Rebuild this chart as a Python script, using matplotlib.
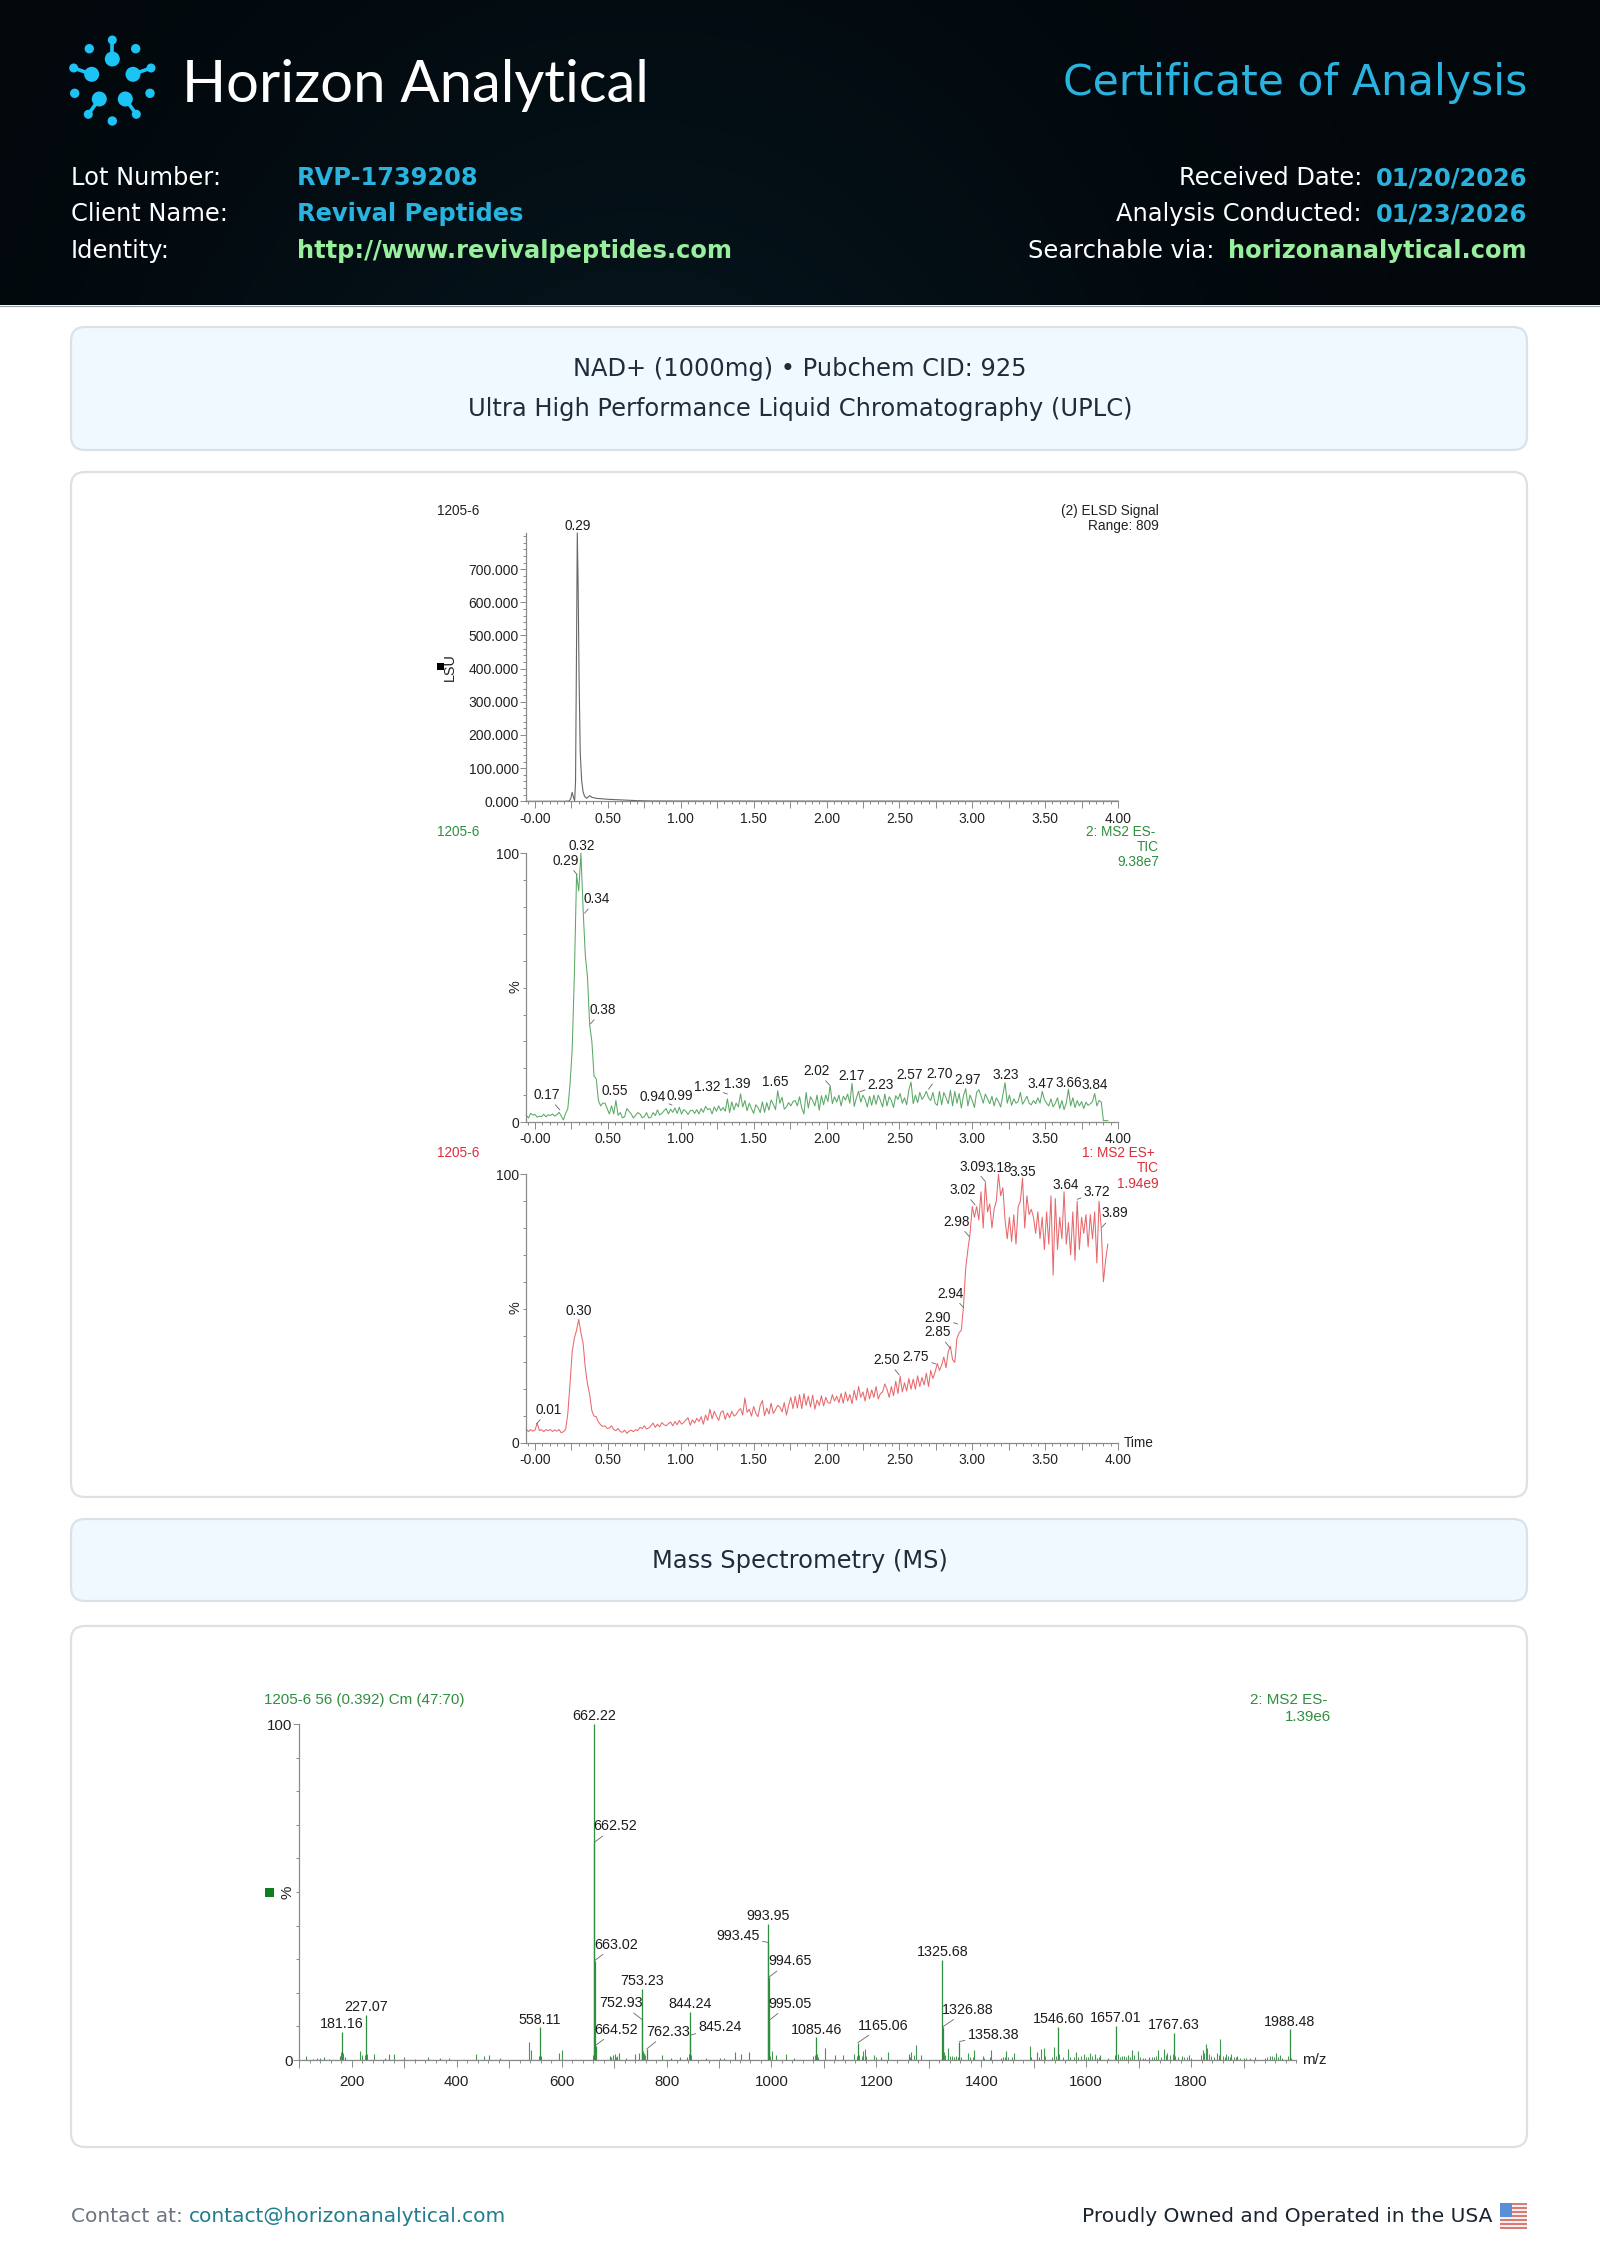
#!/usr/bin/env python3
"""Horizon Analytical certificate: UPLC traces and MS spectrum"""
import numpy as np
import matplotlib
matplotlib.use('Agg')
import matplotlib.pyplot as plt
from matplotlib.patches import FancyBboxPatch, Rectangle, Circle

W, H = 1600, 2260

# ---- data ----
ELSD_TIME = [-0.06, 0.00, 0.10, 0.20, 0.235, 0.245, 0.255, 0.265, 0.272, 0.278, 0.284, 0.29, 0.296, 0.302, 0.31, 0.32,
             0.33, 0.34, 0.355, 0.375, 0.39, 0.42, 0.50, 0.60, 0.70, 0.80, 1.00, 2.00, 3.00, 4.00]
ELSD_SIGNAL = [0, 0, 0, 0, 1, 8, 27, 10, 2, 60, 420, 809, 640, 380, 150, 62,
               28, 15, 9, 17, 12, 9, 6, 4, 2, 1, 0.8, 0.6, 0.5, 0.5]

SCAN_TIME = [
    -0.060, -0.045, -0.030, -0.015, 0.000, 0.015, 0.030, 0.045, 0.060, 0.075,
    0.090, 0.105, 0.120, 0.135, 0.150, 0.165, 0.180, 0.195, 0.210, 0.225,
    0.240, 0.255, 0.270, 0.285, 0.300, 0.315, 0.330, 0.345, 0.360, 0.375,
    0.390, 0.405, 0.420, 0.435, 0.450, 0.465, 0.480, 0.495, 0.510, 0.525,
    0.540, 0.555, 0.570, 0.585, 0.600, 0.615, 0.630, 0.645, 0.660, 0.675,
    0.690, 0.705, 0.720, 0.735, 0.750, 0.765, 0.780, 0.795, 0.810, 0.825,
    0.840, 0.855, 0.870, 0.885, 0.900, 0.915, 0.930, 0.945, 0.960, 0.975,
    0.990, 1.005, 1.020, 1.035, 1.050, 1.065, 1.080, 1.095, 1.110, 1.125,
    1.140, 1.155, 1.170, 1.185, 1.200, 1.215, 1.230, 1.245, 1.260, 1.275,
    1.290, 1.305, 1.320, 1.335, 1.350, 1.365, 1.380, 1.395, 1.410, 1.425,
    1.440, 1.455, 1.470, 1.485, 1.500, 1.515, 1.530, 1.545, 1.560, 1.575,
    1.590, 1.605, 1.620, 1.635, 1.650, 1.665, 1.680, 1.695, 1.710, 1.725,
    1.740, 1.755, 1.770, 1.785, 1.800, 1.815, 1.830, 1.845, 1.860, 1.875,
    1.890, 1.905, 1.920, 1.935, 1.950, 1.965, 1.980, 1.995, 2.010, 2.025,
    2.040, 2.055, 2.070, 2.085, 2.100, 2.115, 2.130, 2.145, 2.160, 2.175,
    2.190, 2.205, 2.220, 2.235, 2.250, 2.265, 2.280, 2.295, 2.310, 2.325,
    2.340, 2.355, 2.370, 2.385, 2.400, 2.415, 2.430, 2.445, 2.460, 2.475,
    2.490, 2.505, 2.520, 2.535, 2.550, 2.565, 2.580, 2.595, 2.610, 2.625,
    2.640, 2.655, 2.670, 2.685, 2.700, 2.715, 2.730, 2.745, 2.760, 2.775,
    2.790, 2.805, 2.820, 2.835, 2.850, 2.865, 2.880, 2.895, 2.910, 2.925,
    2.940, 2.955, 2.970, 2.985, 3.000, 3.015, 3.030, 3.045, 3.060, 3.075,
    3.090, 3.105, 3.120, 3.135, 3.150, 3.165, 3.180, 3.195, 3.210, 3.225,
    3.240, 3.255, 3.270, 3.285, 3.300, 3.315, 3.330, 3.345, 3.360, 3.375,
    3.390, 3.405, 3.420, 3.435, 3.450, 3.465, 3.480, 3.495, 3.510, 3.525,
    3.540, 3.555, 3.570, 3.585, 3.600, 3.615, 3.630, 3.645, 3.660, 3.675,
    3.690, 3.705, 3.720, 3.735, 3.750, 3.765, 3.780, 3.795, 3.810, 3.825,
    3.840, 3.855, 3.870, 3.885, 3.900, 3.915, 3.930]

TIC_NEG = [
    2.5, 1.5, 3.2, 2.6, 2.8, 1.8, 2.2, 2.0, 2.9, 1.9,
    2.7, 2.4, 3.0, 2.2, 2.7, 3.6, 2.2, 0.8, 3.2, 5.0,
    14, 27, 55, 92, 86, 100, 79, 62, 54, 36,
    30, 17, 16, 8, 6, 7, 7, 5, 3, 6,
    3, 8, 2.5, 3.5, 1.5, 2, 5, 4, 3, 1.5,
    2.5, 3.5, 3, 1.6, 2, 3.5, 1.5, 1.8, 3.5, 2.4,
    4.5, 2.6, 3.2, 4.2, 5, 3, 4.8, 3.6, 5.2, 3.2,
    5.5, 3, 4.6, 4, 2.8, 4.2, 4.4, 3.2, 4.6, 3,
    5, 3.6, 5.8, 4.6, 5, 3, 5.6, 4, 6, 4.2,
    5.4, 4, 8.6, 3.5, 7.5, 4.5, 7, 5.6, 10.5, 5.6,
    8, 4.2, 7, 5, 3.2, 6.4, 5.4, 3.5, 7.5, 3.6,
    7.2, 4.4, 8.2, 6.6, 4.6, 11.6, 7, 9.2, 4.8, 5.6,
    7.2, 6, 7.6, 8, 6, 9.4, 5.2, 3, 11, 5.2,
    9.4, 8, 6, 10, 4.4, 9.8, 6.4, 10, 7.6, 13.6,
    6.8, 9.4, 7.4, 10, 6, 9.6, 8.2, 10.4, 7, 14.4,
    5.8, 9, 11.4, 7.4, 10, 8.4, 5.6, 9.6, 6.2, 10,
    6.6, 10, 8, 5.6, 10.4, 6, 9.4, 8, 5.4, 9.8,
    8.4, 10.6, 7, 9, 6.4, 12, 14.8, 6.8, 10, 7.2,
    11, 8.4, 9.6, 11.4, 9, 8, 11, 7, 6.2, 11.4,
    6.4, 11, 9, 6.8, 11.8, 6, 11.4, 7, 10.6, 5.2,
    9.8, 12.4, 6, 10, 8, 5.4, 11, 12, 9.8, 7,
    10.4, 8.6, 6.8, 9.6, 6, 9, 7.6, 5.6, 10, 14.6,
    7, 10, 6.2, 8.6, 7, 7.6, 11, 6.6, 8, 9.6,
    7, 6.4, 8, 6.8, 9, 7, 11.4, 8.4, 7, 6,
    8.6, 5.6, 7, 9, 5, 8, 4.6, 7, 12.2, 6,
    9, 5.4, 8, 6, 7.6, 5, 7.4, 6.2, 6.8, 7.6,
    10.6, 6, 8, 7.4, 0.5, 0.5, 0.5]

TIC_POS = [
    5.2, 4.2, 5, 4.4, 4.8, 7.4, 4.6, 5, 4.2, 5,
    4.6, 5, 4.3, 4.9, 4.4, 5, 3.8, 4.2, 5, 11,
    22, 34, 39, 42, 46, 41, 37, 28, 22, 18,
    12, 10, 9.8, 7.8, 6.8, 6.2, 6.4, 5.4, 5.6, 6.4,
    5, 4.6, 5.4, 4.2, 4, 4.8, 3.6, 4.4, 4.8, 4.2,
    5, 4.6, 5.8, 5.4, 6.4, 5.2, 5.6, 6.4, 7.4, 5.8,
    7, 6, 7.6, 6.8, 6.4, 7.2, 7.8, 6.4, 8, 6.8,
    8.4, 7, 7.6, 8.6, 9.4, 6.6, 8.6, 7.4, 9.2, 8,
    9.8, 7, 10.4, 8.4, 12.6, 9, 11.8, 10, 8.4, 11.4,
    12, 8.8, 11.2, 9.4, 11.8, 10, 10.6, 12, 12.8, 10.4,
    16.8, 11.4, 12.6, 10, 13.6, 11, 9.8, 14, 15.8, 10.2,
    13, 10.8, 14.8, 11, 12.4, 14, 13.4, 11.6, 15, 10.4,
    14, 17, 12.8, 17.4, 13, 18, 12.8, 18.4, 14, 17.4,
    13.4, 17.8, 12.6, 16, 14, 17.6, 13.8, 17, 15, 14.8,
    18, 15.6, 17.4, 15, 18.4, 14.8, 19, 15.6, 18, 14.6,
    19.6, 16, 21, 17, 19, 15.6, 20.4, 16.4, 19.8, 17,
    21, 16.4, 18.4, 19, 22, 20, 17, 21, 17.6, 23,
    18.4, 24.8, 19, 22.4, 19.4, 24, 20, 23.8, 20, 25,
    21, 24.4, 21.6, 26, 21, 27, 24, 26.4, 29.6, 27,
    29, 32, 28, 34, 36, 31, 30, 39, 41, 42,
    51, 65, 72, 78, 88, 84, 88, 83, 93.5, 80,
    97, 86, 89, 80, 87, 90, 100, 92, 95, 83,
    76, 84, 75, 85, 74, 88, 90, 98.5, 80, 92,
    85, 87, 84, 78, 86, 76, 84, 72, 86, 74,
    92, 62.5, 91, 72, 84, 76, 93.5, 74, 82, 70,
    86, 68, 90, 72, 84, 78, 85, 73, 85, 76,
    86, 67, 90, 80, 60, 68, 74]

NEG_PEAK_TIME = [0.17, 0.29, 0.32, 0.34, 0.38, 0.55, 0.94, 0.99, 1.32, 1.39, 1.65, 2.02, 2.17, 2.23,
                 2.57, 2.70, 2.97, 3.23, 3.47, 3.66, 3.84]
NEG_PEAK_HEIGHT = [4.5, 92, 100, 77.7, 36.5, 8.8, 6.3, 6.9, 10.4, 11.3, 12.2, 13.8, 14.4, 11.3,
                   15, 12.2, 12.9, 14.8, 11.4, 11.9, 10.7]
POS_PEAK_TIME = [0.01, 0.30, 2.50, 2.75, 2.85, 2.90, 2.94, 2.98, 3.02, 3.09, 3.18, 3.35, 3.64, 3.72, 3.89]
POS_PEAK_HEIGHT = [7.1, 46, 25.3, 29.4, 35.2, 44.3, 50.4, 76.8, 88.6, 97.3, 99.8, 98.4, 93.5, 90.7, 80.3]

MS_LABEL_MZ = [181.16, 227.07, 558.11, 662.22, 662.52, 663.02, 664.52, 752.93, 753.23, 762.33, 844.24, 845.24,
               993.45, 993.95, 994.65, 995.05, 1085.46, 1165.06, 1325.68, 1326.88, 1358.38, 1546.60, 1657.01,
               1767.63, 1988.48]
MS_LABEL_INT = [8.2, 13.4, 9.9, 100, 64.8, 29.6, 4.3, 12.1, 21, 3.3, 14.4, 7.4,
                35, 40.4, 24.6, 11.7, 6.9, 5.2, 29.8, 9.9, 5.5, 9.7, 10.1,
                7.9, 9.1]

MS_MZ = [112, 125, 133, 140, 146, 157, 178, 184, 187, 216, 220, 243, 263, 271, 280, 299, 320, 345, 369, 386,
         437, 452, 461, 482, 538, 541, 594, 601, 660, 693, 698, 701, 710, 723, 740, 748, 757, 791, 808, 825,
         838, 876, 901, 910, 931, 941, 957, 1001, 1008, 1027, 1042, 1080, 1103, 1121, 1137, 1157, 1174, 1178, 1195, 1208,
         1223, 1262, 1266, 1275, 1285, 1337, 1345, 1352, 1375, 1386, 1404, 1418, 1441, 1448, 1462, 1492, 1507, 1514, 1519, 1538,
         1565, 1581, 1595, 1607, 1616, 1627, 1641, 1669, 1680, 1687, 1699, 1719, 1729, 1736, 1749, 1755, 1782, 1796, 1822, 1828,
         1831, 1849, 1856, 1867, 1877, 1888, 1905, 1922, 1950, 1962, 1969]
MS_INT = [1.2, 0.4, 0.6, 0.7, 0.8, 0.3, 1.2, 1.5, 0.8, 2.8, 1.4, 1.7, 0.5, 1.7, 1.9, 0.8, 0.4, 0.8, 0.6, 0.5,
          1.8, 1.2, 1.4, 0.6, 5.3, 3, 2.2, 3, 1.5, 1.2, 1.5, 1.7, 2.2, 0.6, 1.8, 2, 2, 1.4, 0.6, 0.9,
          0.8, 0.6, 0.7, 0.7, 2.5, 1.7, 2.4, 2.6, 1.4, 1.8, 0.5, 1.2, 3.7, 1.5, 1.4, 1.7, 2.8, 3.2, 1.4, 0.8,
          2.4, 1.7, 2.5, 4.6, 1.6, 3.5, 1.2, 1.2, 2.1, 3.1, 1.2, 3, 1, 2.7, 2, 4.3, 2.5, 3.4, 3.5, 3.8,
          3.3, 2.3, 1.9, 2.1, 1.9, 1.6, 0.7, 1.1, 1.4, 2.9, 2.7, 1, 1, 3, 3.2, 2.2, 1.2, 1.4, 2.9, 4.9,
          3.5, 2, 6.2, 1.9, 1.7, 1.2, 0.7, 1, 1.2, 2.2, 1.4]
# low-level grass along the baseline
MS_GRASS_MZ = [179, 183, 225, 229, 556, 560, 663.8, 695, 704, 706, 755, 759, 842, 847, 996, 998, 1083, 1087, 1089, 1163, 1167,
               1172, 1180, 1199, 1264, 1272, 1328, 1330, 1341, 1348, 1356, 1361, 1378, 1384, 1406, 1416, 1438, 1446, 1450,
               1459, 1495, 1510, 1522, 1535, 1543, 1549, 1555, 1570, 1577, 1585, 1590, 1600, 1604, 1612, 1620, 1624,
               1655, 1660, 1664, 1672, 1676, 1684, 1692, 1703, 1708, 1712, 1725, 1733, 1742, 1752, 1760, 1765, 1770, 1775,
               1786, 1792, 1800, 1818, 1825, 1834, 1838, 1844, 1853, 1860, 1864, 1870, 1874, 1881, 1885, 1893, 1900,
               1912, 1940, 1945, 1955, 1959, 1966, 1973, 1985, 1991]
MS_GRASS_INT = [2.5, 2.2, 1.6, 1.8, 1.1, 1.3, 2.2, 1, 0.9, 1.1, 2.6, 1.5, 1.8, 1.6, 2.1, 1.1, 1.6, 1.8, 1, 1.2, 1.4,
                1.1, 1.2, 0.8, 1, 1.4, 2.4, 1.5, 1.1, 0.9, 0.8, 0.9, 0.8, 1, 0.7, 0.8, 0.7, 0.9, 0.9,
                0.8, 1, 0.9, 1.2, 0.9, 1.2, 1.8, 0.8, 0.9, 1, 0.9, 1.1, 0.8, 1, 1.1, 0.7, 0.9,
                1.6, 1.8, 1, 1.3, 0.9, 0.9, 1.4, 0.8, 0.6, 0.7, 0.8, 1.1, 0.8, 1.4, 1.6, 1.8, 1.2, 0.8,
                0.9, 0.8, 0.7, 1.4, 2.2, 1.8, 1.2, 0.9, 1.4, 1.1, 1, 1.2, 0.9, 0.8, 1, 0.7, 0.6,
                0.6, 0.7, 0.8, 1.1, 0.9, 1, 0.7, 1.3, 0.7]

# text offsets from the peak tip, pixels (dx, dy), same order as the peak lists
NEG_OFFSETS = [(-13, 15), (-12, 14), (0, 7), (12, 14), (12.5, 14), (0, 7), (-19, 8), (0, 7), (-20, 7), (0, 8), (0, 7),
               (-12.6, 14), (0, 7), (21, 7), (0, 7), (11, 15), (0, 7), (0, 7), (0, 7), (0, 7), (0, 8)]
POS_OFFSETS = [(12, 14), (0, 8), (-12.6, 15), (-20, 7), (-12.6, 16), (-20, 6), (-12.6, 14), (-13, 15), (-12.6, 15),
               (-12.6, 15), (0, 7), (0, 7), (0, 7), (20, 7), (12.6, 14)]
MS_OFFSETS = [(0, 8), (0, 8), (0, 7), (0, 8), (21, 16), (21, 16), (21, 16), (-21, 16), (0, 8), (21, 17), (0, 8), (30, 8),
              (-30, 6), (0, 8), (21, 16), (21, 17), (0, 7), (25, 17), (0, 8), (25, 17), (34, 7), (0, 8), (0, 8),
              (0, 8), (0, 7)]

NAVY_TEXT = "#1f2d3a"
CYAN = "#2bb3e0"
MINT = "#98f09c"
CHART_FONT = "Liberation Sans"
GREEN_TXT = "#2f8f3e"
RED_TXT = "#dc2f3a"

fig = plt.figure(figsize=(W / 100, H / 100), dpi=100, facecolor="white")
page = fig.add_axes([0, 0, 1, 1], zorder=0)
page.set_axis_off()


def px_axes(x0, y_bottom, x1, y_top):
    ax = fig.add_axes([x0 / W, 1 - y_bottom / H, (x1 - x0) / W, (y_bottom - y_top) / H], zorder=2)
    ax.patch.set_alpha(0)
    for s in ("top", "right"):
        ax.spines[s].set_visible(False)
    return ax


def txt(x, y, s, size, color, ha="left", va="baseline", **kw):
    page.text(x, y, s, fontsize=size, color=color, ha=ha, va=va, **kw)


def chart_txt(x, y, s, color="#222222", ha="left", rotation=0, size=9.8):
    page.text(x, y, s, fontsize=size, color=color, ha=ha, va="center", rotation=rotation,
              family=CHART_FONT, zorder=5)


# header gradient
gx, gy = np.meshgrid(np.linspace(0, 1, 400), np.linspace(0, 1, 60))
glow = np.exp(-((gx - 0.40) / 0.30) ** 2) * (0.45 + 0.55 * gy)
grad = np.zeros(gx.shape + (3,))
grad[..., 0] = (2 + 3 * glow) / 255
grad[..., 1] = (7 + 12 * glow) / 255
grad[..., 2] = (11 + 15 * glow) / 255
page.imshow(grad, extent=(0, W, 305, 0), aspect="auto", interpolation="bilinear", zorder=0)
page.set_xlim(0, W)
page.set_ylim(H, 0)
page.plot([0, W], [305.5, 305.5], color="#9aa0a4", lw=0.8, zorder=1)

# logo
LOGO = "#1cc4f5"
for cx, cy, r in [(112.3, 59, 7.5), (91.7, 74.3, 7.5), (133, 74.3, 7.5), (99.3, 99, 7.5), (125.3, 99, 7.5),
                  (112.3, 40, 4.5), (73.7, 68, 4.5), (151, 68, 4.5), (88.3, 114.3, 4.5), (136.3, 114.3, 4.5),
                  (89.3, 48.7, 4.7), (135.7, 48.7, 4.7), (74.7, 93.3, 4.7), (150, 93.3, 4.7), (112.3, 121, 4.7)]:
    page.add_patch(Circle((cx, cy), r, color=LOGO, lw=0, zorder=2))
for a, b in [((112.3, 59), (112.3, 40)), ((91.7, 74.3), (73.7, 68)), ((133, 74.3), (151, 68)),
             ((99.3, 99), (88.3, 114.3)), ((125.3, 99), (136.3, 114.3))]:
    page.plot([a[0], b[0]], [a[1], b[1]], color=LOGO, lw=2.6, zorder=2)

txt(182, 102, "Horizon Analytical", 41.8, "white", family="Lato", zorder=3)
txt(1527, 95, "Certificate of Analysis", 30.6, CYAN, ha="right", zorder=3)

for y, lab, val, col in [(185, "Lot Number:", "RVP-1739208", CYAN),
                         (221, "Client Name:", "Revival Peptides", CYAN),
                         (258, "Identity:", "http://www.revivalpeptides.com", MINT)]:
    txt(71, y, lab, 17.4, "white", zorder=3)
    txt(297, y, val, 17.4, col, fontweight="bold", zorder=3)
for y, lab, val, col, lab_x in [(185, "Received Date:", "01/20/2026", CYAN, 1362),
                                (221, "Analysis Conducted:", "01/23/2026", CYAN, 1362),
                                (258, "Searchable via:", "horizonanalytical.com", MINT, 1215)]:
    txt(lab_x, y, lab, 17.4, "white", ha="right", zorder=3)
    txt(1527, y, val, 17.4, col, ha="right", fontweight="bold", zorder=3)

# cards
for y0, y1, fc in [(327, 450, "#f0f9ff"), (472, 1497, "white"), (1519, 1601, "#f0f9ff"), (1626, 2147, "white")]:
    page.add_patch(FancyBboxPatch((71, y0), 1456, y1 - y0, boxstyle="round,pad=0,rounding_size=14",
                                  fc=fc, ec="#dbe2e7", lw=1.6, zorder=1))
txt(800, 369, "NAD+ (1000mg) • Pubchem CID: 925", 17.4, NAVY_TEXT, ha="center", va="center")
txt(800, 409, "Ultra High Performance Liquid Chromatography (UPLC)", 17.4, NAVY_TEXT, ha="center", va="center")
txt(800, 1561, "Mass Spectrometry (MS)", 17.4, NAVY_TEXT, ha="center", va="center")

# footer
t = page.text(71, 2216, "Contact at: ", fontsize=14.5, color="#6b7580", va="center")
page.annotate("contact@horizonanalytical.com", xy=(1, 0.5), xycoords=t, va="center", fontsize=14.5, color="#1f7d8c")
txt(1492, 2216, "Proudly Owned and Operated in the USA", 14.5, "#1b2530", ha="right", va="center")
for i in range(13):
    fc = "#d97a74" if i % 2 == 0 else "#f7eeee"
    page.add_patch(Rectangle((1500, 2203 + i * 2), 27, 2, fc=fc, lw=0, zorder=2))
page.add_patch(Rectangle((1500, 2203), 12, 14, fc="#5a8fd8", lw=0, zorder=3))


def style_axis(ax):
    for s in ("left", "bottom"):
        ax.spines[s].set_color("#8a8a8a")
        ax.spines[s].set_linewidth(0.9)
    ax.tick_params(axis="both", which="both", color="#8a8a8a", width=0.7, labelcolor="#222222")
    for lab in ax.get_xticklabels() + ax.get_yticklabels():
        lab.set_family(CHART_FONT)


def time_axis(ax, ymajor, ylabels, yminor, top):
    ticks = [i * 0.25 for i in range(17)]
    labels = [("-0.00" if i == 0 else f"{i * 0.25:.2f}") if i % 2 == 0 else "" for i in range(17)]
    ax.set_xlim(-0.064, 4.0)
    ax.set_ylim(0, top)
    ax.set_xticks(ticks, labels)
    ax.set_xticks([i * 0.05 for i in range(-1, 81)], minor=True)
    ax.set_yticks(ymajor, ylabels)
    ax.set_yticks(yminor, minor=True)
    ax.tick_params(axis="x", which="major", length=5, labelsize=10, pad=2.5)
    ax.tick_params(axis="x", which="minor", length=2.5)
    ax.tick_params(axis="y", which="major", length=4, labelsize=10, pad=1)
    ax.tick_params(axis="y", which="minor", length=2.5)
    style_axis(ax)


def peak_labels(ax, names, xs, ys, offsets, size=9.8):
    for name, x, y, (dx, dy) in zip(names, xs, ys, offsets):
        arrow = None
        if abs(dx) > 5:
            arrow = dict(arrowstyle="-", color="#666666", lw=0.6, shrinkA=0, shrinkB=0)
        ax.annotate(name, xy=(x, y), xytext=(dx, dy), textcoords="offset pixels", ha="center", va="center",
                    fontsize=size, color="#1c1c1c", family=CHART_FONT, annotation_clip=False, arrowprops=arrow)


# ELSD
ax1 = px_axes(525.7, 801.3, 1118, 533)
ax1.plot(ELSD_TIME, ELSD_SIGNAL, color="#666666", lw=0.8, clip_on=False)
time_axis(ax1, [i * 100 for i in range(8)], [f"{i * 100}.000" for i in range(8)], [i * 20 for i in range(41)], 809)
ax1.annotate("0.29", xy=(0.29, 809), xytext=(0, 7), textcoords="offset pixels", ha="center", va="center",
             fontsize=9.8, color="#1c1c1c", family=CHART_FONT, annotation_clip=False)
chart_txt(437, 511, "1205-6")
chart_txt(1159, 511, "(2) ELSD Signal", ha="right")
chart_txt(1159, 526, "Range: 809", ha="right")
chart_txt(450, 667, "LSU", ha="center", rotation=90, size=10.4)
page.add_patch(Rectangle((437, 663), 7, 7, fc="black", lw=0, zorder=5))

# negative TIC
ax2 = px_axes(525.7, 1122, 1118, 853.3)
ax2.plot(SCAN_TIME, TIC_NEG, color="#5aa865", lw=0.75, clip_on=False)
time_axis(ax2, [0, 100], ["0", "100"], list(range(0, 101, 10)), 100)
peak_labels(ax2, [f"{v:.2f}" for v in NEG_PEAK_TIME], NEG_PEAK_TIME, NEG_PEAK_HEIGHT, NEG_OFFSETS)
chart_txt(437, 832, "1205-6", GREEN_TXT)
chart_txt(1155, 832, "2: MS2 ES-", GREEN_TXT, ha="right")
chart_txt(1159, 847, "TIC", GREEN_TXT, ha="right")
chart_txt(1159, 862, "9.38e7", GREEN_TXT, ha="right")
chart_txt(515, 987, "%", ha="center", rotation=90, size=10.4)

# positive TIC
ax3 = px_axes(525.7, 1443, 1118, 1174.3)
ax3.plot(SCAN_TIME, TIC_POS, color="#e8686c", lw=0.75, clip_on=False)
time_axis(ax3, [0, 100], ["0", "100"], list(range(0, 101, 10)), 100)
peak_labels(ax3, [f"{v:.2f}" for v in POS_PEAK_TIME], POS_PEAK_TIME, POS_PEAK_HEIGHT, POS_OFFSETS)
chart_txt(437, 1153, "1205-6", RED_TXT)
chart_txt(1155, 1153, "1: MS2 ES+", RED_TXT, ha="right")
chart_txt(1159, 1168, "TIC", RED_TXT, ha="right")
chart_txt(1159, 1184, "1.94e9", RED_TXT, ha="right")
chart_txt(515, 1308, "%", ha="center", rotation=90, size=10.4)
chart_txt(1124, 1443, "Time")

# spectrum
ax4 = px_axes(299.4, 2060, 1296, 1724)
ax4.hlines(0, 100, 1995, color="#3f8f4c", lw=0.8, zorder=3)
ax4.vlines(MS_GRASS_MZ, 0, MS_GRASS_INT, color="#3f9a4d", lw=0.7, zorder=3)
ax4.vlines(MS_MZ, 0, MS_INT, color="#3f9a4d", lw=0.8, zorder=3)
ax4.vlines(MS_LABEL_MZ, 0, MS_LABEL_INT, color="#2f8f3e", lw=0.9, zorder=3)
ax4.set_xlim(100, 2000)
ax4.set_ylim(0, 100)
ax4.set_xticks(list(range(200, 1801, 200)), [str(v) for v in range(200, 1801, 200)])
ax4.set_xticks(list(range(100, 2001, 20)), minor=True)
ax4.set_yticks([0, 100], ["0", "100"])
ax4.set_yticks(list(range(0, 101, 10)), minor=True)
ax4.tick_params(axis="x", which="major", length=5, labelsize=10.8, pad=5.5)
ax4.tick_params(axis="x", which="minor", length=2.5)
ax4.tick_params(axis="y", which="major", length=4, labelsize=10.8, pad=1)
ax4.tick_params(axis="y", which="minor", length=2.5)
style_axis(ax4)
for tick in ax4.xaxis.get_minor_ticks():
    if round(tick.get_loc()) % 200 == 100:
        tick.tick1line.set_markersize(6)
peak_labels(ax4, [f"{v:.2f}" for v in MS_LABEL_MZ], MS_LABEL_MZ, MS_LABEL_INT, MS_OFFSETS, size=10.3)
chart_txt(264.5, 1700, "1205-6 56 (0.392) Cm (47:70)", GREEN_TXT, size=10.9)
chart_txt(1327, 1700, "2: MS2 ES-", GREEN_TXT, ha="right", size=10.9)
chart_txt(1331, 1717, "1.39e6", GREEN_TXT, ha="right", size=10.9)
page.add_patch(Rectangle((264.5, 1888), 9, 9, fc="#0e7f1e", lw=0, zorder=5))
chart_txt(288, 1892, "%", ha="center", rotation=90, size=10.9)
chart_txt(1302, 2060, "m/z", size=10.9)

fig.savefig("out.png", dpi=100, facecolor="white")
plt.close(fig)
